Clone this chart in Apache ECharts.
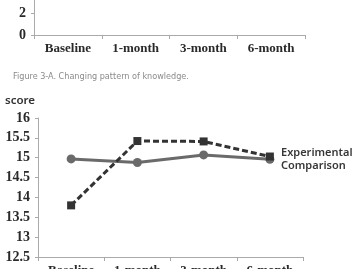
<!DOCTYPE html>
<html>
<head>
<meta charset="utf-8">
<script src="https://cdn.jsdelivr.net/npm/echarts@6/dist/echarts.min.js"></script>
<style>
html,body{margin:0;padding:0;background:#fff;}
#c{width:352px;height:269px;}
</style>
</head>
<body>
<div id="c"></div>
<script>
const categories = ['Baseline', '1-month', '3-month', '6-month'];
const experimental = [13.80, 15.42, 15.41, 15.03];
const comparison = [14.97, 14.88, 15.07, 14.96];
const seriesNames = ['Experimental', 'Comparison'];
const captionText = 'Figure 3-A. Changing pattern of knowledge.';
const yAxisName = 'score';

const serifLabel = {fontFamily: 'Liberation Serif', fontWeight: 'bold', color: '#2a2a2a'};
const axisGray = '#aaaaaa';

const chart = echarts.init(document.getElementById('c'), null, {renderer: 'canvas'});
chart.setOption({
  animation: false,
  backgroundColor: '#ffffff',
  title: {
    text: captionText,
    left: 8, top: 67,
    textStyle: {fontFamily: '"DejaVu Sans Condensed", "Liberation Sans", sans-serif', fontSize: 9, fontWeight: 'normal', color: '#8a8a8a'}
  },
  legend: {
    data: seriesNames,
    orient: 'vertical',
    left: 276, top: 146,
    padding: 0,
    itemWidth: 0, itemHeight: 13, itemGap: 0,
    icon: 'rect',
    textStyle: {fontFamily: 'Noto Sans', fontSize: 11, fontWeight: 600, color: '#383838', lineHeight: 13}
  },
  grid: [
    {left: 34, right: 47, top: 0, height: 35, outerBoundsMode: 'none'},
    {left: 38, right: 49, top: 118, bottom: 12, outerBoundsMode: 'none'}
  ],
  xAxis: [
    {
      type: 'category', gridIndex: 0, data: categories, boundaryGap: true,
      axisLine: {lineStyle: {color: axisGray, width: 1}},
      axisTick: {show: true, length: 4, lineStyle: {color: axisGray}},
      axisLabel: Object.assign({fontSize: 13, margin: 7}, serifLabel)
    },
    {
      type: 'category', gridIndex: 1, data: categories, boundaryGap: true,
      axisLine: {lineStyle: {color: axisGray, width: 1}},
      axisTick: {show: true, length: 4, lineStyle: {color: axisGray}},
      axisLabel: Object.assign({fontSize: 13, margin: 7}, serifLabel)
    }
  ],
  yAxis: [
    {
      type: 'value', gridIndex: 0, min: 0, max: 3.23, interval: 2,
      splitLine: {show: false},
      axisLine: {show: true, lineStyle: {color: axisGray}},
      axisTick: {show: true, length: 3, lineStyle: {color: axisGray}},
      axisLabel: Object.assign({fontSize: 14, margin: 8, showMaxLabel: false}, serifLabel)
    },
    {
      type: 'value', gridIndex: 1, min: 12.5, max: 16, interval: 0.5,
      name: yAxisName,
      nameLocation: 'end', nameGap: 11,
      nameTextStyle: {fontFamily: 'Noto Sans', fontSize: 11.5, fontWeight: 600, color: '#333', align: 'right', padding: [0, 3, 0, 0]},
      splitLine: {show: false},
      axisLine: {show: true, lineStyle: {color: axisGray}},
      axisTick: {show: true, length: 3, lineStyle: {color: axisGray}},
      axisLabel: Object.assign({fontSize: 14, margin: 8}, serifLabel)
    }
  ],
  series: [
    {
      name: seriesNames[0], type: 'line', xAxisIndex: 1, yAxisIndex: 1,
      data: experimental,
      symbol: 'rect', symbolSize: 8,
      itemStyle: {color: '#333333'},
      lineStyle: {color: '#333333', width: 3, type: [6, 3]},
      z: 3
    },
    {
      name: seriesNames[1], type: 'line', xAxisIndex: 1, yAxisIndex: 1,
      data: comparison,
      symbol: 'circle', symbolSize: 9,
      itemStyle: {color: '#6a6a6a'},
      lineStyle: {color: '#6a6a6a', width: 3},
      z: 2
    }
  ]
});
</script>
</body>
</html>
